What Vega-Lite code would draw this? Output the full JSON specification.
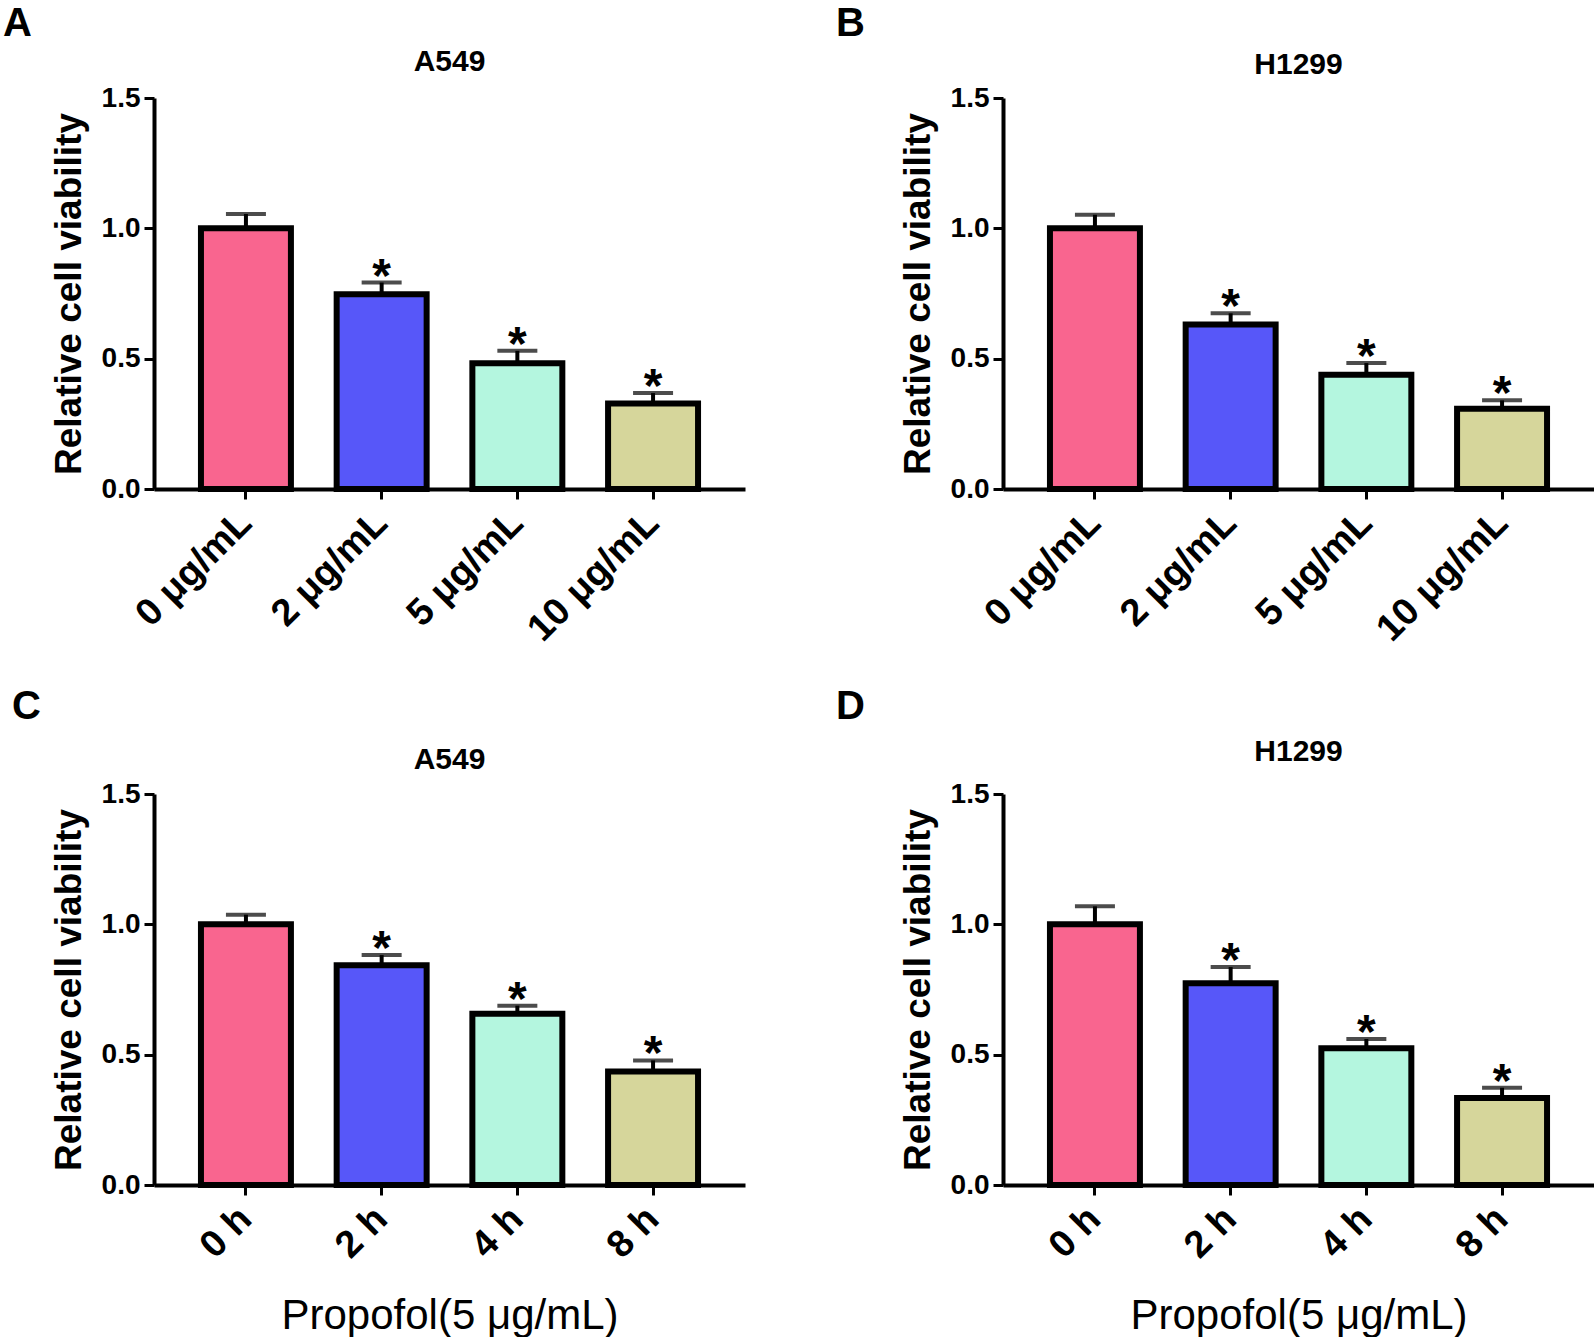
{
  "$schema": "https://vega.github.io/schema/vega-lite/v6.json",
  "padding": {"left": 3, "top": 4, "right": 0, "bottom": 0},
  "background": "white",
  "datasets": {
    "cells": [
      {"panel": "A", "group": "0 μg/mL", "mean": 1.0, "upper": 1.055, "sig": ""},
      {"panel": "A", "group": "2 μg/mL", "mean": 0.747, "upper": 0.792, "sig": "*"},
      {"panel": "A", "group": "5 μg/mL", "mean": 0.482, "upper": 0.53, "sig": "*"},
      {"panel": "A", "group": "10 μg/mL", "mean": 0.328, "upper": 0.368, "sig": "*"},
      {"panel": "B", "group": "0 μg/mL", "mean": 1.0, "upper": 1.052, "sig": ""},
      {"panel": "B", "group": "2 μg/mL", "mean": 0.631, "upper": 0.674, "sig": "*"},
      {"panel": "B", "group": "5 μg/mL", "mean": 0.438, "upper": 0.483, "sig": "*"},
      {"panel": "B", "group": "10 μg/mL", "mean": 0.308, "upper": 0.34, "sig": "*"},
      {"panel": "C", "group": "0 h", "mean": 1.0, "upper": 1.037, "sig": ""},
      {"panel": "C", "group": "2 h", "mean": 0.843, "upper": 0.882, "sig": "*"},
      {"panel": "C", "group": "4 h", "mean": 0.657, "upper": 0.688, "sig": "*"},
      {"panel": "C", "group": "8 h", "mean": 0.435, "upper": 0.478, "sig": "*"},
      {"panel": "D", "group": "0 h", "mean": 1.0, "upper": 1.069, "sig": ""},
      {"panel": "D", "group": "2 h", "mean": 0.774, "upper": 0.836, "sig": "*"},
      {"panel": "D", "group": "4 h", "mean": 0.525, "upper": 0.56, "sig": "*"},
      {"panel": "D", "group": "8 h", "mean": 0.334, "upper": 0.373, "sig": "*"}
    ]
  },
  "data": {"name": "cells"},
  "spacing": 38,
  "resolve": {"scale": {"x": "independent", "y": "independent"}},
  "vconcat": [
    {
      "spacing": 91,
      "resolve": {"scale": {"x": "independent", "y": "independent"}},
      "hconcat": [
        {
          "title": {"text": "A", "anchor": "start", "frame": "bounds", "dx": -47, "offset": 3, "fontSize": 40},
          "vconcat": [
            {
              "width": 591, "height": 391,
              "title": {"text": "A549", "anchor": "middle", "frame": "group", "offset": 7},
              "transform": [{"filter": "datum.panel === 'A'"}],
              "encoding": {
                "x": {"field": "group", "type": "nominal", "sort": null, "scale": {"paddingInner": 0.337, "paddingOuter": 0.346}, "axis": {"title": null}}
              },
              "layer": [
                {"mark": {"type": "rule", "color": "black", "strokeWidth": 4}, "encoding": {"y": {"field": "mean", "type": "quantitative"}, "y2": {"field": "upper"}}},
                {"mark": {"type": "bar", "stroke": "black", "strokeWidth": 6}, "encoding": {
                  "y": {"field": "mean", "type": "quantitative", "scale": {"domain": [0, 1.5], "nice": false}, "axis": {"title": "Relative cell viability", "values": [0, 0.5, 1, 1.5], "format": ".1f"}},
                  "color": {"field": "group", "type": "nominal", "legend": null, "scale": {"domain": ["0 μg/mL", "2 μg/mL", "5 μg/mL", "10 μg/mL", "0 h", "2 h", "4 h", "8 h"], "range": ["#F9658F", "#5757F9", "#B4F6DF", "#D6D69B", "#F9658F", "#5757F9", "#B4F6DF", "#D6D69B"]}}}},
                {"mark": {"type": "tick", "color": "black", "thickness": 4, "size": 40}, "encoding": {"y": {"field": "upper", "type": "quantitative"}}},
                {"mark": {"type": "text", "fontSize": 48, "fontWeight": "bold", "font": "Liberation Sans", "baseline": "alphabetic", "dy": 9, "color": "black"}, "encoding": {"y": {"field": "upper", "type": "quantitative"}, "text": {"field": "sig"}}}
              ]
            }
          ]
        },
        {
          "title": {"text": "B", "anchor": "start", "frame": "bounds", "dx": -63, "offset": 6, "fontSize": 40},
          "vconcat": [
            {
              "width": 591, "height": 391,
              "title": {"text": "H1299", "anchor": "middle", "frame": "group", "offset": 4},
              "transform": [{"filter": "datum.panel === 'B'"}],
              "encoding": {
                "x": {"field": "group", "type": "nominal", "sort": null, "scale": {"paddingInner": 0.337, "paddingOuter": 0.346}, "axis": {"title": null}}
              },
              "layer": [
                {"mark": {"type": "rule", "color": "black", "strokeWidth": 4}, "encoding": {"y": {"field": "mean", "type": "quantitative"}, "y2": {"field": "upper"}}},
                {"mark": {"type": "bar", "stroke": "black", "strokeWidth": 6}, "encoding": {
                  "y": {"field": "mean", "type": "quantitative", "scale": {"domain": [0, 1.5], "nice": false}, "axis": {"title": "Relative cell viability", "values": [0, 0.5, 1, 1.5], "format": ".1f"}},
                  "color": {"field": "group", "type": "nominal", "legend": null, "scale": {"domain": ["0 μg/mL", "2 μg/mL", "5 μg/mL", "10 μg/mL", "0 h", "2 h", "4 h", "8 h"], "range": ["#F9658F", "#5757F9", "#B4F6DF", "#D6D69B", "#F9658F", "#5757F9", "#B4F6DF", "#D6D69B"]}}}},
                {"mark": {"type": "tick", "color": "black", "thickness": 4, "size": 40}, "encoding": {"y": {"field": "upper", "type": "quantitative"}}},
                {"mark": {"type": "text", "fontSize": 48, "fontWeight": "bold", "font": "Liberation Sans", "baseline": "alphabetic", "dy": 9, "color": "black"}, "encoding": {"y": {"field": "upper", "type": "quantitative"}, "text": {"field": "sig"}}}
              ]
            }
          ]
        }
      ]
    },
    {
      "spacing": 91,
      "resolve": {"scale": {"x": "independent", "y": "independent"}},
      "hconcat": [
        {
          "title": {"text": "C", "anchor": "start", "frame": "bounds", "dx": -38, "offset": 18, "fontSize": 40},
          "vconcat": [
            {
              "width": 591, "height": 391,
              "title": {"text": "A549", "anchor": "middle", "frame": "group", "offset": 5},
              "transform": [{"filter": "datum.panel === 'C'"}],
              "encoding": {
                "x": {"field": "group", "type": "nominal", "sort": null, "scale": {"paddingInner": 0.337, "paddingOuter": 0.346}, "axis": {"title": "Propofol(5 μg/mL)"}}
              },
              "layer": [
                {"mark": {"type": "rule", "color": "black", "strokeWidth": 4}, "encoding": {"y": {"field": "mean", "type": "quantitative"}, "y2": {"field": "upper"}}},
                {"mark": {"type": "bar", "stroke": "black", "strokeWidth": 6}, "encoding": {
                  "y": {"field": "mean", "type": "quantitative", "scale": {"domain": [0, 1.5], "nice": false}, "axis": {"title": "Relative cell viability", "values": [0, 0.5, 1, 1.5], "format": ".1f"}},
                  "color": {"field": "group", "type": "nominal", "legend": null, "scale": {"domain": ["0 μg/mL", "2 μg/mL", "5 μg/mL", "10 μg/mL", "0 h", "2 h", "4 h", "8 h"], "range": ["#F9658F", "#5757F9", "#B4F6DF", "#D6D69B", "#F9658F", "#5757F9", "#B4F6DF", "#D6D69B"]}}}},
                {"mark": {"type": "tick", "color": "black", "thickness": 4, "size": 40}, "encoding": {"y": {"field": "upper", "type": "quantitative"}}},
                {"mark": {"type": "text", "fontSize": 48, "fontWeight": "bold", "font": "Liberation Sans", "baseline": "alphabetic", "dy": 9, "color": "black"}, "encoding": {"y": {"field": "upper", "type": "quantitative"}, "text": {"field": "sig"}}}
              ]
            }
          ]
        },
        {
          "title": {"text": "D", "anchor": "start", "frame": "bounds", "dx": -63, "offset": 10, "fontSize": 40},
          "vconcat": [
            {
              "width": 591, "height": 391,
              "title": {"text": "H1299", "anchor": "middle", "frame": "group", "offset": 13},
              "transform": [{"filter": "datum.panel === 'D'"}],
              "encoding": {
                "x": {"field": "group", "type": "nominal", "sort": null, "scale": {"paddingInner": 0.337, "paddingOuter": 0.346}, "axis": {"title": "Propofol(5 μg/mL)"}}
              },
              "layer": [
                {"mark": {"type": "rule", "color": "black", "strokeWidth": 4}, "encoding": {"y": {"field": "mean", "type": "quantitative"}, "y2": {"field": "upper"}}},
                {"mark": {"type": "bar", "stroke": "black", "strokeWidth": 6}, "encoding": {
                  "y": {"field": "mean", "type": "quantitative", "scale": {"domain": [0, 1.5], "nice": false}, "axis": {"title": "Relative cell viability", "values": [0, 0.5, 1, 1.5], "format": ".1f"}},
                  "color": {"field": "group", "type": "nominal", "legend": null, "scale": {"domain": ["0 μg/mL", "2 μg/mL", "5 μg/mL", "10 μg/mL", "0 h", "2 h", "4 h", "8 h"], "range": ["#F9658F", "#5757F9", "#B4F6DF", "#D6D69B", "#F9658F", "#5757F9", "#B4F6DF", "#D6D69B"]}}}},
                {"mark": {"type": "tick", "color": "black", "thickness": 4, "size": 40}, "encoding": {"y": {"field": "upper", "type": "quantitative"}}},
                {"mark": {"type": "text", "fontSize": 48, "fontWeight": "bold", "font": "Liberation Sans", "baseline": "alphabetic", "dy": 9, "color": "black"}, "encoding": {"y": {"field": "upper", "type": "quantitative"}, "text": {"field": "sig"}}}
              ]
            }
          ]
        }
      ]
    }
  ],
  "config": {
    "font": "Liberation Sans",
    "view": {"stroke": null},
    "axis": {"grid": false, "domainColor": "black", "domainWidth": 4, "tickColor": "black", "tickWidth": 3, "tickSize": 10, "labelColor": "black", "labelFont": "Liberation Sans", "labelFontWeight": "bold", "titleFont": "Liberation Sans", "titleColor": "black"},
    "axisY": {"labelFontSize": 28, "labelPadding": 4, "titleFontSize": 37, "titleFontWeight": "bold", "titlePadding": 13},
    "axisX": {"labelFontSize": 38, "labelAngle": -45, "labelBaseline": "middle", "labelPadding": 18, "titleFontSize": 42, "titleFontWeight": "normal", "titlePadding": 30},
    "title": {"font": "Liberation Sans", "color": "black", "fontWeight": "bold", "fontSize": 30}
  }
}
